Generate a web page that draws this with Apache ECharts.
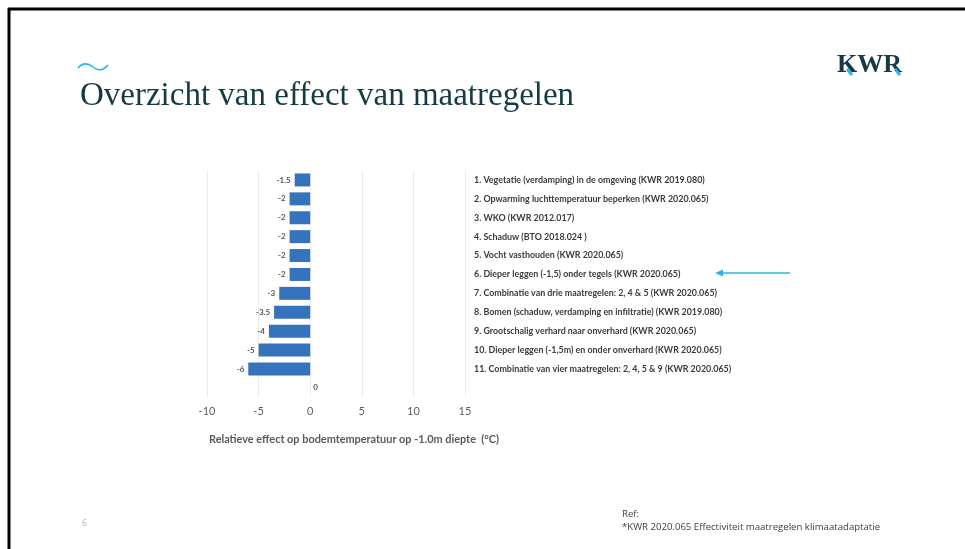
<!DOCTYPE html>
<html>
<head>
<meta charset="utf-8">
<script src="https://cdn.jsdelivr.net/npm/echarts@6/dist/echarts.min.js"></script>
<style>
html,body{margin:0;padding:0;background:#fff;}
#chart{width:965px;height:549px;}
</style>
</head>
<body>
<div id="chart"></div>
<script>
const categories = [
  '1. Vegetatie (verdamping) in de omgeving (KWR 2019.080)',
  '2. Opwarming luchttemperatuur beperken (KWR 2020.065)',
  '3. WKO (KWR 2012.017)',
  '4. Schaduw (BTO 2018.024 )',
  '5. Vocht vasthouden (KWR 2020.065)',
  '6. Dieper leggen (-1,5) onder tegels (KWR 2020.065)',
  '7. Combinatie van drie maatregelen: 2, 4 & 5 (KWR 2020.065)',
  '8. Bomen (schaduw, verdamping en infiltratie) (KWR 2019.080)',
  '9. Grootschalig verhard naar onverhard (KWR 2020.065)',
  '10. Dieper leggen (-1,5m) en onder onverhard (KWR 2020.065)',
  '11. Combinatie van vier maatregelen: 2, 4, 5 & 9 (KWR 2020.065)',
  ''
];
const values = [-1.5, -2, -2, -2, -2, -2, -3, -3.5, -4, -5, -6, 0];
const xTickMin = -10;
const xTickMax = 15;
const xTickStep = 5;
const titleText = 'Overzicht van effect van maatregelen';
const axisTitle = 'Relatieve effect op bodemtemperatuur op -1.0m diepte  (°C)';
const refLines = ['Ref:', '*KWR 2020.065 Effectiviteit maatregelen klimaatadaptatie'];
const pageNumber = '6';

const chart = echarts.init(document.getElementById('chart'));
const barData = values.map(function (v) {
  return {
    value: v,
    label: v === 0 ? { position: 'right', distance: 3 } : { position: 'left', distance: 4 }
  };
});

chart.setOption({
  animation: false,
  backgroundColor: '#ffffff',
  grid: { left: 207, right: 500, top: 170.5, height: 226.8, containLabel: false },
  xAxis: {
    type: 'value', min: xTickMin, max: xTickMax, interval: xTickStep,
    axisLine: { show: false }, axisTick: { show: false },
    splitLine: { show: true, lineStyle: { color: '#ececec', width: 1 } },
    axisLabel: { color: '#5e5e5e', fontSize: 11, margin: 9, fontFamily: 'Lato' }
  },
  yAxis: [{
    type: 'category', inverse: true, data: categories,
    axisLine: { show: false }, axisTick: { show: false }, axisLabel: { show: false },
    splitLine: { show: false }
  }, {
    type: 'category', inverse: true, data: categories, position: 'right',
    axisLine: { show: false }, axisTick: { show: false }, splitLine: { show: false },
    axisLabel: { align: 'left', margin: 9, fontSize: 8.9, fontWeight: 'bold', color: '#3a3a3a', fontFamily: 'Lato' }
  }],
  series: [{
    type: 'bar', yAxisIndex: 0, data: barData, barWidth: 13,
    itemStyle: { color: '#3574bd' },
    label: { show: true, color: '#555555', fontSize: 8, fontWeight: 'bold', fontFamily: 'Lato' }
  }],
  graphic: [
    { type: 'line', shape: { x1: 8, y1: 9, x2: 965, y2: 9 }, style: { stroke: '#000', lineWidth: 3 } },
    { type: 'line', shape: { x1: 9, y1: 8, x2: 9, y2: 549 }, style: { stroke: '#000', lineWidth: 3 } },
    { type: 'bezierCurve', shape: { x1: 78, y1: 68, cpx1: 83, cpy1: 62, cpx2: 88, cpy2: 63, x2: 93, y2: 67 },
      style: { stroke: '#2ab4e6', lineWidth: 1.6, fill: null } },
    { type: 'bezierCurve', shape: { x1: 93, y1: 67, cpx1: 98, cpy1: 71, cpx2: 103, cpy2: 71, x2: 108, y2: 65 },
      style: { stroke: '#2ab4e6', lineWidth: 1.6, fill: null } },
    { type: 'text', left: 80, top: 80,
      style: { text: titleText, font: '33px "Liberation Serif"', fill: '#173a45' } },
    { type: 'text', left: 837, top: 52,
      style: { text: 'KWR', font: 'bold 26px "Liberation Serif"', fill: '#173a45' } },
    { type: 'line', shape: { x1: 847, y1: 69, x2: 852, y2: 75 }, style: { stroke: '#2ab4e6', lineWidth: 3 } },
    { type: 'line', shape: { x1: 895, y1: 69, x2: 900, y2: 75 }, style: { stroke: '#2ab4e6', lineWidth: 3 } },
    { type: 'line', shape: { x1: 722, y1: 273, x2: 790, y2: 273 }, style: { stroke: '#2ab4e6', lineWidth: 1.5 } },
    { type: 'polygon', shape: { points: [[715, 273], [723, 269.5], [723, 276.5]] }, style: { fill: '#2ab4e6' } },
    { type: 'text', left: 209, top: 434,
      style: { text: axisTitle, font: 'bold 10.9px Lato', fill: '#5a5a5a' } },
    { type: 'text', left: 82, top: 519,
      style: { text: pageNumber, font: '9px "Open Sans"', fill: '#b0b0b0' } },
    { type: 'text', left: 622, top: 508,
      style: { text: refLines.join('\n'), font: '9.6px "Open Sans"', fill: '#404040', lineHeight: 13 } }
  ]
});
</script>
</body>
</html>
